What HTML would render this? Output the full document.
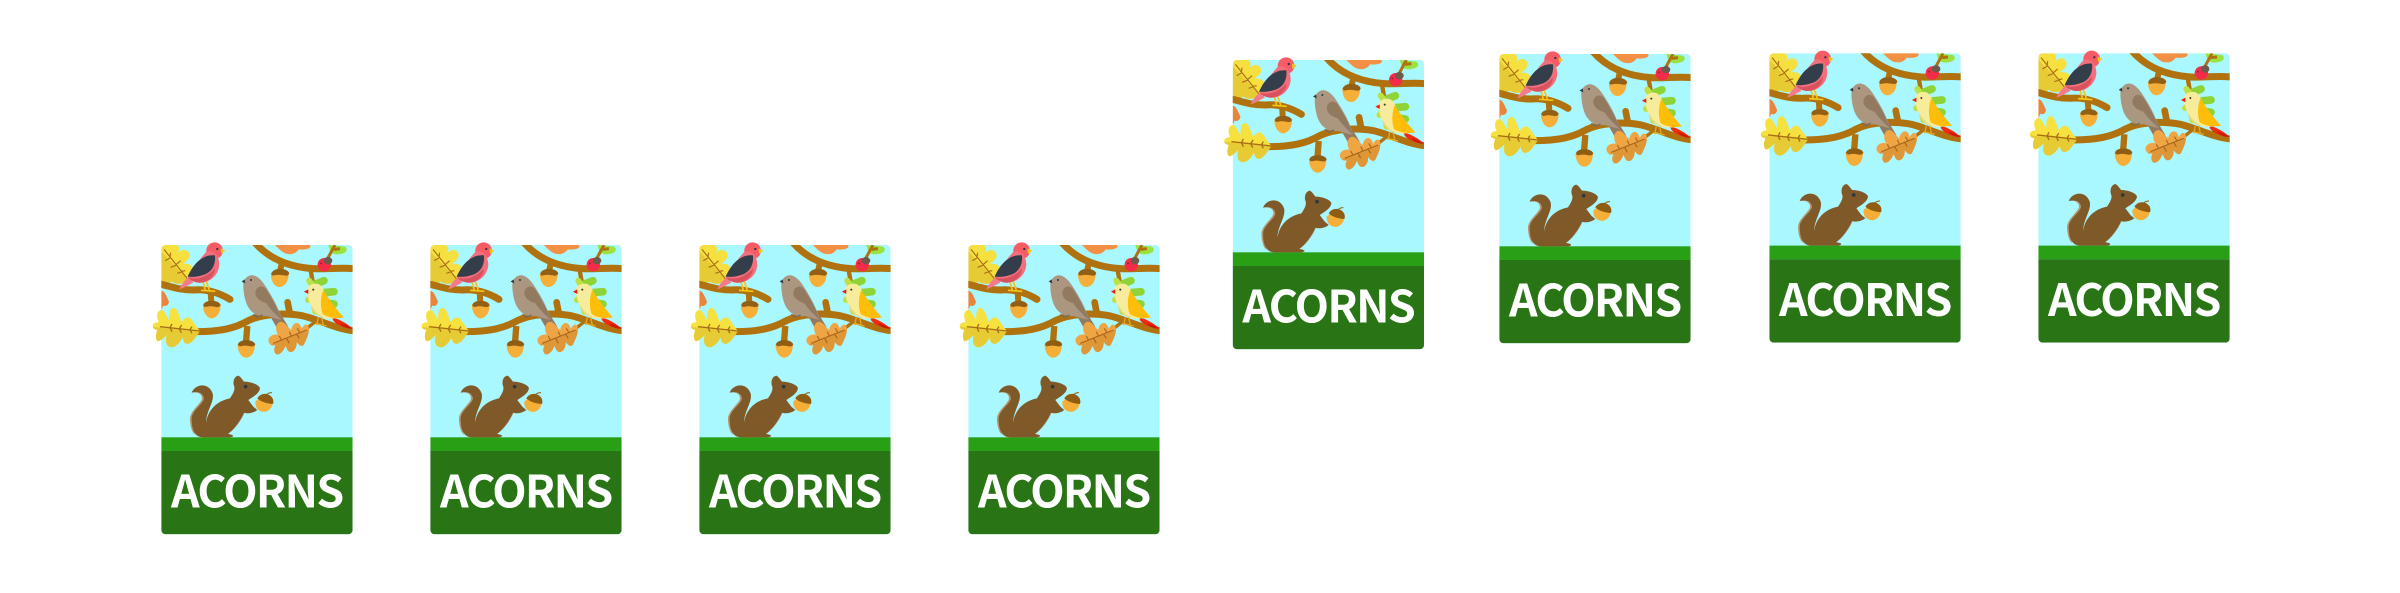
<!DOCTYPE html>
<html lang="en">
<head>
<meta charset="utf-8">
<title>Acorns cards</title>
<style>
html,body{margin:0;padding:0;background:#fff;width:2400px;height:593px;overflow:hidden}
svg{display:block}
.label{font-family:"Noto Sans CJK JP","Liberation Sans",sans-serif;font-weight:700;font-size:134px;fill:#fff}
</style>
</head>
<body>
<svg id="chart" xmlns="http://www.w3.org/2000/svg" width="2400" height="593" viewBox="0 0 2400 593">
<defs>
<clipPath id="card-clip"><rect x="64" y="45" width="574" height="868" rx="13"/></clipPath>
<clipPath id="right-top-clip"><rect x="0" y="45" width="638" height="868"/></clipPath>
<clipPath id="left-leaf-clip"><path d="M38,288 C40,278 48,278 56,276 C48,260 50,240 65,240 C75,242 80,262 88,270 C86,250 90,232 102,234 C115,238 118,262 126,276 C130,268 140,258 150,264 C158,270 165,285 180,303 C168,320 160,335 148,340 C135,345 130,335 128,322 C120,340 100,358 88,350 C75,345 78,325 80,315 C70,325 55,340 50,330 C45,320 50,305 52,300 C45,298 38,296 38,288 Z"/></clipPath>
<clipPath id="orange-leaf-clip"><path d="M385,330 C388,318 400,312 414,314 C404,298 408,276 424,275 C438,278 446,296 454,300 C456,284 468,274 478,282 C484,288 484,296 486,296 C492,282 502,280 506,290 C510,310 498,330 492,344 C486,352 476,345 470,335 C472,355 458,372 446,364 C440,358 440,352 436,348 C432,362 418,378 408,372 C398,362 406,350 406,345 C396,350 386,342 385,330 Z"/></clipPath>
<clipPath id="top-leaf-clip"><path d="M64,45 L110,45 C118,48 120,58 114,70 C126,54 150,58 149,78 C147,90 136,96 128,102 C142,98 164,106 158,122 L140,150 C130,165 108,164 94,154 C84,166 72,160 64,150 Z"/></clipPath>
<g id="card-art">
  <g clip-path="url(#card-clip)">
    <rect x="64" y="45" width="574" height="868" fill="#a9f7ff"/>
    <rect x="64" y="622" width="574" height="41" fill="#289f14"/>
    <rect x="64" y="663" width="574" height="250" fill="#297516"/>
    <!-- top-left leaf -->
    <g clip-path="url(#top-leaf-clip)">
      <rect x="60" y="40" width="110" height="130" fill="#f5e040"/>
      <path d="M60,60 L145,150 L140,170 L60,170 Z" fill="#e6cb35"/>
    </g>
    <path d="M72,58 L142,146 M90,82 L92,68 M108,104 L122,92 M124,124 L136,122 M90,84 L76,92 M108,106 L92,112 M124,126 L112,130" stroke="#ab6f16" stroke-width="3.5" fill="none"/>
    <!-- small orange leaf at left edge -->
    <path d="M64,182 C75,185 78,195 87,215 C85,228 75,230 70,226 L64,240 Z" fill="#e8843c"/>
    <!-- top orange leaf -->
    <path d="M405,45 C415,55 430,72 445,72 C458,74 470,68 476,58 C490,60 508,58 512,50 L510,45 Z" fill="#f39043"/>
    <!-- top branch -->
    <path d="M345,38 C395,95 460,112 520,116 C560,118 600,112 642,116" fill="none" stroke="#b0720f" stroke-width="21"/>
    <!-- top-right green leaf and twig -->
    <path d="M565,45 L615,50 C626,58 620,70 600,72 C590,75 580,72 572,66 Z" fill="#9ae23f"/>
    <path d="M558,95 L585,45 M582,58 L600,56" stroke="#b0720f" stroke-width="9" fill="none"/>
    <!-- ladybug -->
    <ellipse cx="553" cy="104" rx="20" ry="20" fill="#f52a48" transform="rotate(-20 553 104)"/>
    <ellipse cx="564" cy="92" rx="13" ry="11" fill="#6d5a4a"/>
    <circle cx="543" cy="100" r="3" fill="#a32030"/>
    <!-- acorn stems -->
    <path d="M428,88 L420,125" stroke="#b0720f" stroke-width="18"/>
    <path d="M512,120 L520,165" stroke="#b0720f" stroke-width="13"/>
    <!-- acorn top -->
    <path d="M393,130 C392,155 405,172 420,171 C438,168 446,150 446,130 Z" fill="#f5ae38"/>
    <path d="M394,131 C398,112 442,112 448,130 C445,136 442,138 436,137 C420,134 408,134 400,137 C396,137 394,134 394,131 Z" fill="#935f14"/>
    <!-- green leaves behind yellow bird -->
    <g fill="none" stroke-linecap="round">
      <path d="M520,165 L552,152 M530,190 L582,185 M530,215 L582,222" stroke="#8ed436" stroke-width="23"/>
      <path d="M520,170 L508,152 M516,198 L504,210 M522,225 L526,245" stroke="#bde044" stroke-width="18"/>
    </g>
    <!-- main branch -->
    <path d="M170,305 C240,305 285,295 325,272 C370,250 440,248 490,258 C540,270 590,298 642,302" fill="none" stroke="#b0720f" stroke-width="21"/>
    <path d="M443,217 L450,252" stroke="#b0720f" stroke-width="20" stroke-linecap="round"/>
    <path d="M322,288 L318,340" stroke="#b0720f" stroke-width="19"/>
    <!-- acorn lower -->
    <path d="M293,342 C292,365 305,384 320,383 C338,380 345,362 345,342 Z" fill="#f5ae38"/>
    <path d="M294,343 C298,326 340,326 346,343 C343,349 338,350 332,349 C320,346 310,346 302,349 C298,349 295,347 294,343 Z" fill="#8f5c14"/>
    <!-- left branch -->
    <path d="M60,162 C100,172 120,180 160,180 C200,176 240,190 270,208" fill="none" stroke="#b0720f" stroke-width="21" stroke-linecap="round"/>
    <!-- acorn middle -->
    <path d="M212,182 L214,215" stroke="#b0720f" stroke-width="18"/>
    <path d="M189,224 C188,247 202,266 216,265 C234,262 242,244 242,224 Z" fill="#f5ae38"/>
    <path d="M190,225 C194,208 236,208 242,225 C239,231 234,232 228,231 C216,228 206,228 198,231 C194,231 191,229 190,225 Z" fill="#935f14"/>
    <!-- squirrel -->
    <path d="M150,490 C170,483 186,490 186,505 C185,520 152,540 150,565 C150,585 155,605 165,615 C155,570 165,545 190,522 C198,505 190,485 165,485 Z" fill="#b59572"/>
    <path d="M300,550 C295,575 280,595 262,612 C285,600 305,570 315,545 Z" fill="#b59572"/>
    <path d="M155,488 C165,462 205,455 218,490 C224,515 200,540 198,578 C205,535 235,512 270,505 C280,490 285,480 283,470 C278,460 280,440 295,437 C302,440 308,450 312,455 C335,455 358,465 360,475 C358,490 340,500 325,510 L340,530 L352,540 C340,550 320,552 312,548 C300,575 280,600 264,612 C282,614 285,620 270,622 L190,622 C165,622 155,600 155,565 C157,540 190,522 192,505 C188,485 170,485 155,488 Z" fill="#7f5a28"/>
    <circle cx="317" cy="470" r="5.5" fill="#2f3640"/>
    <!-- squirrel acorn -->
    <path d="M346,515 C345,540 365,548 378,545 C392,540 398,528 398,518 L370,495 Z" fill="#f5ae38"/>
    <path d="M352,505 C360,490 385,485 398,505 C402,515 400,520 398,522 C380,520 362,515 352,505 Z" fill="#8f5c14"/>
    <path d="M380,494 C384,490 390,488 396,488" stroke="#8f5c14" stroke-width="3" fill="none"/>
  </g>
  <!-- big left leaf, overflowing the card -->
  <g clip-path="url(#left-leaf-clip)">
    <rect x="30" y="225" width="155" height="135" fill="#f6e13e"/>
    <path d="M30,290 L185,305 L185,360 L30,360 Z" fill="#e6cb35"/>
  </g>
  <path d="M60,290 L180,303 M118,296 L125,285 M118,296 L124,308 M150,299 L156,290 M150,299 L156,310 M90,293 L96,282 M90,293 L96,305" stroke="#a96f16" stroke-width="4" fill="none"/>
  <!-- red bird -->
  <g>
    <path d="M118,178 C125,162 135,150 150,140 L160,158 C145,165 130,175 118,178 Z" fill="#f57a8a"/>
    <path d="M188,152 L196,180 M198,152 L208,180" stroke="#f5c518" stroke-width="5" fill="none"/>
    <path d="M183,181 L226,184" stroke="#f5c518" stroke-width="5" fill="none"/>
    <circle cx="224" cy="62" r="25" fill="#f55c66"/>
    <path d="M200,65 C220,60 238,75 238,105 C235,140 205,160 175,158 C160,155 148,148 143,140 C165,110 180,85 200,65 Z" fill="#f36f7c"/>
    <path d="M143,140 C155,150 195,150 225,115 C225,140 200,160 175,158 C160,156 150,150 143,140 Z" fill="#d9525f"/>
    <path d="M143,140 C160,100 190,72 225,76 C228,105 215,125 195,133 C175,140 160,142 143,140 Z" fill="#343d4a"/>
    <path d="M242,55 L256,62 L243,72 Z" fill="#f5c518"/>
    <circle cx="232" cy="57" r="3.5" fill="#2f3640"/>
  </g>
  <!-- sparrow -->
  <g>
    <path d="M380,240 L412,296 L445,290 L405,225 Z" fill="#917a5f"/>
    <path d="M310,165 C310,145 325,134 340,136 C360,140 375,165 390,190 C405,215 420,245 425,270 C405,265 395,262 380,258 C350,262 330,245 320,222 C312,200 310,180 310,165 Z" fill="#ab9680"/>
    <path d="M346,188 C350,165 370,165 380,180 C395,205 415,235 425,270 C405,250 388,235 380,220 C362,215 346,205 346,188 Z" fill="#917a5f"/>
    <path d="M340,253 L352,262 L368,255" stroke="#7a6a58" stroke-width="4" fill="none"/>
    <circle cx="333" cy="150" r="3" fill="#2f3640"/>
    <path d="M305,155 L314,148 L316,160 Z" fill="#2f3640"/>
  </g>
  <!-- orange main leaf -->
  <path d="M497,298 L530,272" stroke="#b0720f" stroke-width="10"/>
  <g clip-path="url(#orange-leaf-clip)">
    <rect x="380" y="270" width="135" height="110" fill="#f0a544"/>
    <path d="M395,342 L510,297 L510,380 L380,380 Z" fill="#df9637"/>
  </g>
  <path d="M400,340 L500,300 M425,331 L418,318 M455,319 L448,305 M480,308 L472,295 M440,325 L448,340 M470,313 L478,325" stroke="#a8691d" stroke-width="3.5" fill="none"/>
  <!-- yellow bird -->
  <g clip-path="url(#right-top-clip)">
    <path d="M576,262 C590,264 620,278 638,296 C615,296 590,285 580,272 Z" fill="#ee2b10"/>
    <path d="M600,280 C612,282 625,288 638,296 C622,296 610,292 600,280 Z" fill="#c81a08"/>
    <path d="M535,262 L530,285 M545,262 L550,285 M528,280 L560,288" stroke="#e0a820" stroke-width="4" fill="none"/>
    <path d="M500,185 C500,165 520,158 535,162 C548,168 552,180 555,190 C575,220 595,245 612,262 C590,265 565,268 548,262 C525,250 510,225 505,205 C502,195 500,190 500,185 Z" fill="#f7ec9b"/>
    <path d="M512,222 C522,240 535,255 555,264 C535,260 522,248 516,238 Z" fill="#ecd87c"/>
    <path d="M550,180 C572,215 595,245 612,262 C590,266 565,264 548,252 C540,230 542,200 550,180 Z" fill="#fdbd08"/>
    <path d="M505,178 L492,185 L505,192 Z" fill="#f01a10"/>
    <circle cx="520" cy="179" r="3" fill="#2f3640"/>
  </g>
</g>
</defs>
<rect x="0" y="0" width="2400" height="593" fill="#ffffff"/>
<g id="cards"></g>
</svg>
<script>
const categories = ['card-1', 'card-2', 'card-3', 'card-4', 'card-5', 'card-6', 'card-7', 'card-8'];
const xValues = [0, 1, 2, 3, 3.983, 4.974, 5.978, 6.978];
const yValues = [0, 0, 0, 0, 1.85, 1.91, 1.917, 1.917];
const cardLabel = 'ACORNS';

function xAxis(v) { return 161.3 + v * 269; }
function yAxis(v) { return 245 - v * 100; }

const NS = 'http://www.w3.org/2000/svg';
const host = document.getElementById('cards');
categories.forEach(function (name, i) {
  const g = document.createElementNS(NS, 'g');
  
  
  g.setAttribute('transform', 'translate(' + xAxis(xValues[i]) + ' ' + yAxis(yValues[i]) + ') scale(0.3333) translate(-64 -45)');
  const art = document.createElementNS(NS, 'use');
  art.setAttribute('href', '#card-art');
  
  
  g.appendChild(art);
  const t = document.createElementNS(NS, 'text');
  
  
  t.setAttribute('class', 'label');
  t.setAttribute('x', '93');
  t.setAttribute('y', '833');
  t.setAttribute('textLength', '520');
  t.setAttribute('lengthAdjust', 'spacing');
  t.textContent = cardLabel;
  g.appendChild(t);
  host.appendChild(g);
});
</script>
</body>
</html>
